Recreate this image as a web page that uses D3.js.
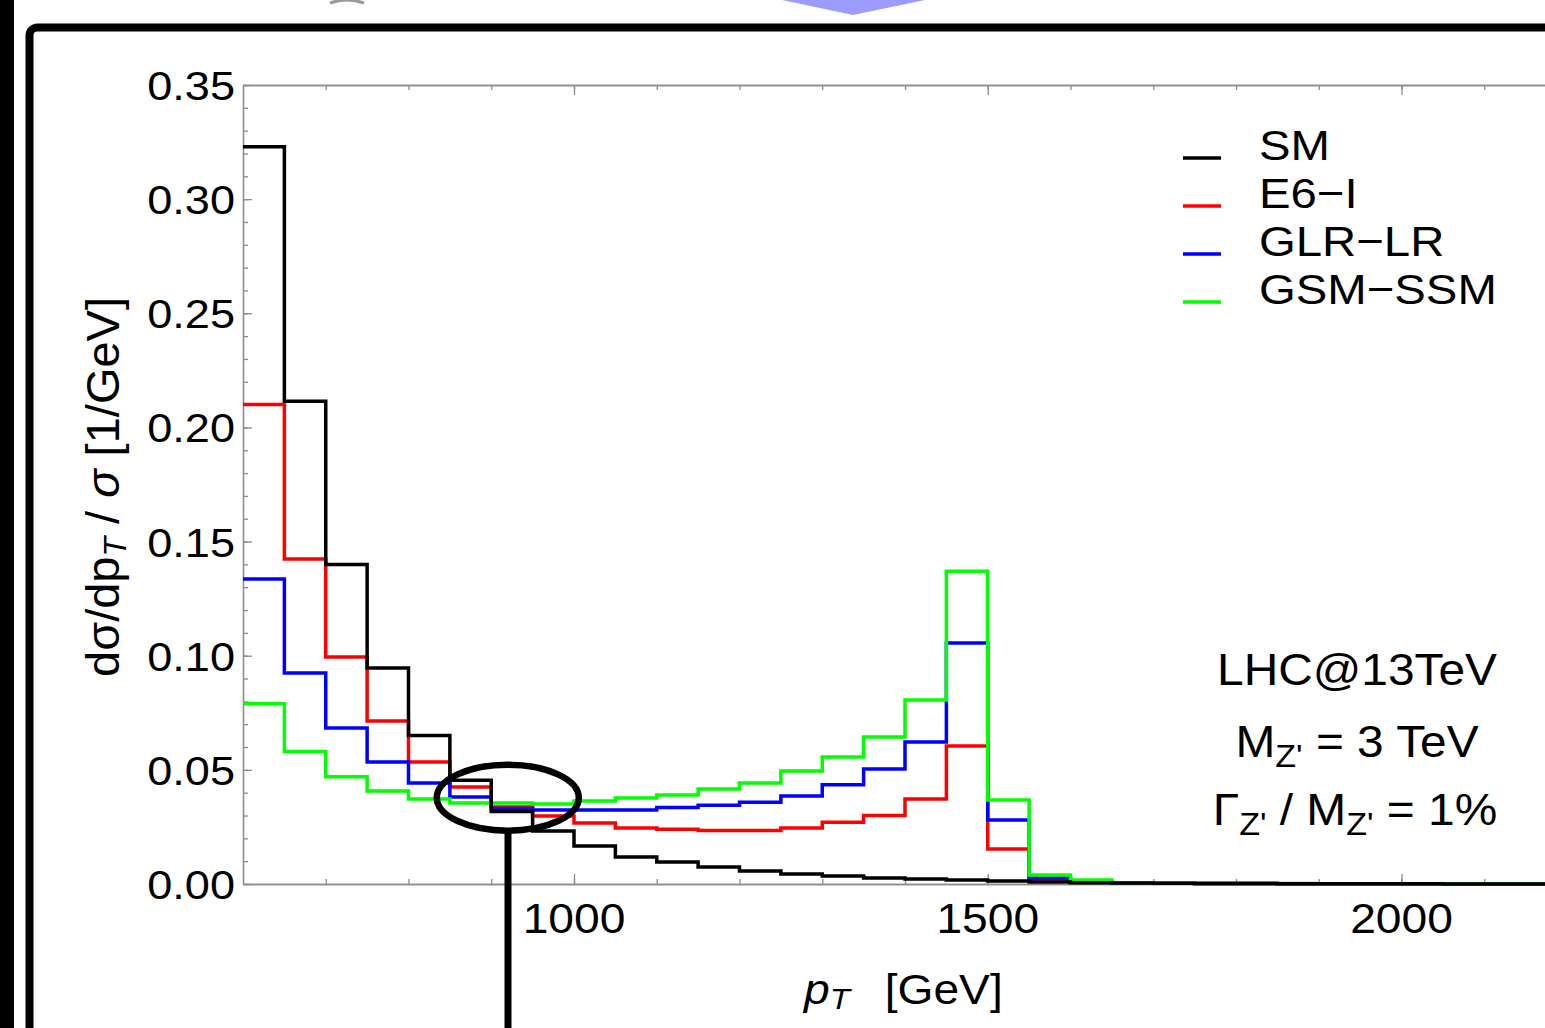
<!DOCTYPE html>
<meta charset="utf-8">
<html>
<head>
  <title>pT distribution</title>
  <script src="https://d3js.org/d3.v7.min.js"></script>
  <style>
    body { margin: 0; background: #fff; }
    text { font-family: "Liberation Sans", Arial, Helvetica, sans-serif; fill: #000; }
  </style>
</head>
<body>
<div id="my_dataviz"></div>
<script>
  // histogram bins: 50 GeV wide, starting at 600 GeV
  var binStart = 600, binWidth = 50;
  var seriesNames = ["SM", "E6\u2212I", "GLR\u2212LR", "GSM\u2212SSM"];
  var seriesColors = ["#000000", "#ff0000", "#0000ff", "#00ff00"];

  var smVals  = [0.323, 0.2115, 0.140, 0.0946, 0.065, 0.0455, 0.0318, 0.0232, 0.0166, 0.0118,
                 0.0096, 0.0074, 0.0057, 0.0044, 0.0035, 0.0026, 0.0022, 0.0018, 0.0013, 0.0009,
                 0.0006, 0.0004, 0.0003, 0.0002, 0.0002, 0.0001, 0.0001, 0.0001, 0.0001, 0, 0, 0];
  var e6Vals  = [0.210, 0.1424, 0.0994, 0.0714, 0.0534, 0.0425, 0.0337, 0.0298, 0.0267, 0.0245,
                 0.0240, 0.0234, 0.0234, 0.0245, 0.0270, 0.0300, 0.0372, 0.0604, 0.0153, 0.0022,
                 0.0008, 0.0005, 0.0003, 0.0002, 0.0002, 0.0001, 0.0001, 0.0001, 0, 0, 0, 0];
  var glrVals = [0.1336, 0.0924, 0.0683, 0.0534, 0.0442, 0.0381, 0.0331, 0.0324, 0.0324, 0.0324,
                 0.0335, 0.0345, 0.0358, 0.0385, 0.0435, 0.0504, 0.0622, 0.1056, 0.0280, 0.0026,
                 0.0008, 0.0005, 0.0003, 0.0002, 0.0002, 0.0001, 0.0001, 0.0001, 0, 0, 0, 0];
  var gsmVals = [0.079, 0.058, 0.047, 0.0407, 0.0372, 0.0355, 0.0355, 0.0350, 0.0364, 0.0377,
                 0.0390, 0.0416, 0.0442, 0.0495, 0.0556, 0.0644, 0.0806, 0.137, 0.0368, 0.0039,
                 0.0017, 0.0006, 0.0004, 0.0003, 0.0002, 0.0002, 0.0001, 0.0001, 0.0001, 0, 0, 0];

  var yMajor = [0, 0.05, 0.10, 0.15, 0.20, 0.25, 0.30, 0.35];
  var xLabels = [1000, 1500, 2000];

  var W = 1545, H = 1028;
  var sx = 1.1; // glyphs in the picture are a bit wide
  var grey = "#8c8c8c";

  var svg = d3.select("#my_dataviz").append("svg")
    .attr("width", W).attr("height", H);

  // decorations around the slide frame
  svg.append("rect").attr("x", 0).attr("y", 0).attr("width", 14).attr("height", H).attr("fill", "#000");
  svg.append("path").attr("d", "M782,0 L925,0 L853,15 Z").attr("fill", "#9c9cff");
  svg.append("path").attr("d", "M330,3 Q347,-3 364,3").attr("fill", "none").attr("stroke", "#999").attr("stroke-width", 3);
  svg.append("rect").attr("x", 29.5).attr("y", 27.5).attr("width", 1600).attr("height", 1100)
    .attr("rx", 8).attr("fill", "#fff").attr("stroke", "#000").attr("stroke-width", 8);

  var x = d3.scaleLinear().domain([600, 2200]).range([243, 243 + 1600 * 0.8275]);
  var y = d3.scaleLinear().domain([0, 0.35]).range([884, 85]);

  var g = svg.append("g");

  function styleAxis(sel) {
    sel.selectAll("path").attr("stroke", grey).attr("stroke-width", 1.3);
    sel.selectAll("line").attr("stroke", grey).attr("stroke-width", 1.3);
  }

  // y axis (inward ticks)
  g.append("g").attr("transform", "translate(" + x(600) + ",0)")
    .call(d3.axisLeft(y).tickValues(d3.range(0, 0.351, 0.01)).tickSize(-5).tickSizeOuter(0).tickFormat(""))
    .call(styleAxis);
  g.append("g").attr("transform", "translate(" + x(600) + ",0)")
    .call(d3.axisLeft(y).tickValues(yMajor).tickSize(-9).tickSizeOuter(0).tickFormat(""))
    .call(styleAxis);

  // bottom and top x axes
  var xMinor = d3.range(700, 2201, 100);
  [["bottom", 884], ["top", 85]].forEach(function(a) {
    var mk = a[0] == "bottom" ? d3.axisBottom : d3.axisTop;
    g.append("g").attr("transform", "translate(0," + a[1] + ")")
      .call(mk(x).tickValues(xMinor).tickSize(-5).tickSizeOuter(0).tickFormat(""))
      .call(styleAxis);
    g.append("g").attr("transform", "translate(0," + a[1] + ")")
      .call(mk(x).tickValues(xLabels).tickSize(-10).tickSizeOuter(0).tickFormat(""))
      .call(styleAxis);
  });

  function label(px, py, anchor, size) {
    return svg.append("text")
      .attr("transform", "translate(" + px + "," + py + ") scale(" + sx + ",1)")
      .attr("text-anchor", anchor)
      .style("font-size", size + "px");
  }

  yMajor.forEach(function(v) {
    label(235, y(v) + 15, "end", 41).text(d3.format(".2f")(v));
  });
  xLabels.forEach(function(v) {
    label(x(v), 933, "middle", 42).text(v);
  });

  // histograms, SM last so it sits on top
  var allVals = [smVals, e6Vals, glrVals, gsmVals];
  var drawOrder = [1, 2, 3, 0];
  var step = d3.line().curve(d3.curveStepAfter)
    .x(function(d) { return x(d[0]); })
    .y(function(d) { return y(d[1]); });

  drawOrder.forEach(function(i) {
    var vals = allVals[i];
    var pts = vals.map(function(v, k) { return [binStart + k * binWidth, v]; });
    pts.push([binStart + vals.length * binWidth, vals[vals.length - 1]]);
    g.append("path").datum(pts)
      .attr("d", step)
      .attr("fill", "none")
      .attr("stroke", seriesColors[i])
      .attr("stroke-width", 3.5);
  });

  // legend
  seriesNames.forEach(function(name, i) {
    var by = 160 + i * 48;
    svg.append("line").attr("x1", 1183).attr("x2", 1221).attr("y1", by - 2).attr("y2", by - 2)
      .attr("stroke", seriesColors[i]).attr("stroke-width", 3.5);
    label(1259, by, "start", 43).text(name);
  });

  // annotation
  label(1357, 685, "middle", 43.5).text("LHC@13TeV");
  var t2 = label(1357, 757, "middle", 43.5);
  t2.append("tspan").text("M");
  t2.append("tspan").attr("dy", 10).style("font-size", "31px").text("Z'");
  t2.append("tspan").attr("dy", -10).text(" = 3 TeV");
  var t3 = label(1355, 825, "middle", 43.5);
  t3.append("tspan").text("\u0393");
  t3.append("tspan").attr("dy", 10).style("font-size", "31px").text("Z'");
  t3.append("tspan").attr("dy", -10).text(" / M");
  t3.append("tspan").attr("dy", 10).style("font-size", "31px").text("Z'");
  t3.append("tspan").attr("dy", -10).text(" = 1%");

  // axis titles
  var xt = label(804, 1004, "start", 42);
  xt.append("tspan").style("font-style", "italic").text("p");
  xt.append("tspan").attr("dy", 5).style("font-style", "italic").style("font-size", "30px").text("T");
  xt.append("tspan").attr("dy", -5).attr("dx", 20).text(" [GeV]");

  var yt = svg.append("text")
    .attr("transform", "translate(119,487) rotate(-90)")
    .attr("text-anchor", "middle")
    .style("font-size", "47px");
  yt.append("tspan").text("d\u03c3/dp");
  yt.append("tspan").attr("dy", 7).style("font-style", "italic").style("font-size", "32px").text("T");
  yt.append("tspan").attr("dy", -7).text(" / ");
  yt.append("tspan").style("font-style", "italic").text("\u03c3");
  yt.append("tspan").text(" [1/GeV]");

  // callout ellipse and pointer
  svg.append("ellipse").attr("cx", x(920)).attr("cy", y(0.0378)).attr("rx", 71).attr("ry", 33)
    .attr("fill", "none").attr("stroke", "#000").attr("stroke-width", 6.5);
  svg.append("line").attr("x1", 508).attr("x2", 508).attr("y1", y(0.0378) + 33).attr("y2", H)
    .attr("stroke", "#000").attr("stroke-width", 7);
</script>
</body>
</html>
